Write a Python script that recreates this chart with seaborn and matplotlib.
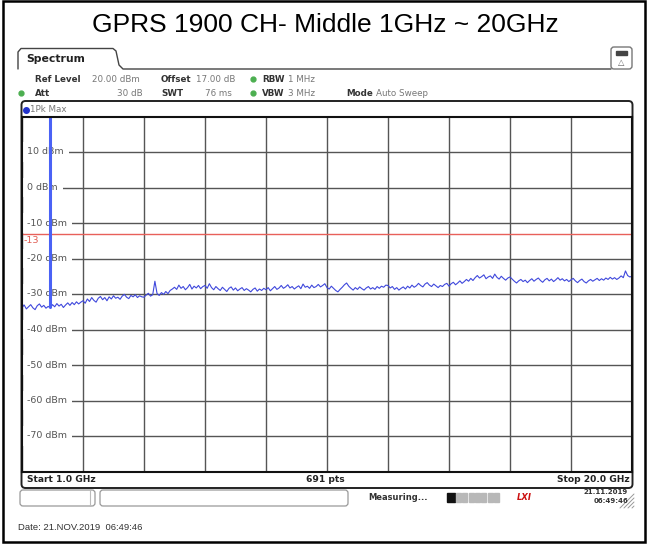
import matplotlib.pyplot as plt
import matplotlib.transforms as mtransforms
from matplotlib.patches import Rectangle, FancyBboxPatch
import seaborn as sns
import numpy as np
import pandas as pd

# datos
titulo = "GPRS 1900 CH- Middle 1GHz ~ 20GHz"
f_inicio = 1.0
f_fin = 20.0
nivel_ref = 20
niveles = [10, 0, -10, -20, -30, -40, -50, -60, -70]
limite = -13
portadora_f = 1.88
portadora_dbm = 30.0
portadora_piso = -33.6

# traza 1Pk Max, una division (1.9 GHz) por fila
traza = [
    -33.8, -33.1, -34.2, -33.6, -33.0, -33.9, -34.4, -33.3, -32.8, -33.7, -33.2, -34.0, -33.5, -33.9,
    -33.0, -33.6, -32.7, -33.4, -32.9, -33.8, -33.1, -32.5, -33.2, -32.4, -33.0, -32.2, -32.8, -32.3,
    -31.9, -32.6, -31.4, -32.1, -31.0, -31.8, -32.3, -31.2, -30.7, -31.6, -31.0, -31.9, -30.8, -31.4,
    -30.5, -31.2, -30.9, -31.5, -30.6, -30.1, -30.9, -31.3, -30.4, -30.8, -30.2, -31.0, -30.5, -30.8,
    -30.9, -30.3, -29.8, -30.6, -30.2, -26.4, -29.9, -30.4, -29.6, -30.1, -29.3, -29.9, -29.0, -28.6,
    -28.1, -28.7, -27.5, -28.4, -27.9, -28.8, -28.2, -27.3, -28.6, -27.8, -28.3, -27.6, -28.5, -27.9,
    -27.6, -28.4, -27.1, -28.2, -28.8, -27.9, -28.5, -29.0, -28.1, -28.7, -29.3, -28.4, -28.0, -28.9,
    -28.3, -29.1, -28.6, -28.2, -29.0, -28.5, -28.9, -29.4, -28.7, -28.3, -29.2, -28.6, -29.0, -28.4,
    -28.8, -28.2, -29.1, -28.5, -27.9, -28.7, -28.3, -27.6, -28.4, -28.0, -27.4, -28.3, -27.9, -28.6,
    -28.1, -27.7, -28.5, -27.2, -28.1, -27.8, -28.4, -27.5, -28.2, -27.9, -27.3, -28.0, -27.6, -27.1,
    -28.2, -28.6, -27.8, -28.4, -29.0, -29.4, -28.7, -28.1, -27.4, -26.9, -27.8, -28.4, -28.9, -28.2,
    -28.7, -28.0, -28.5, -28.9, -28.3, -27.9, -28.6, -28.2, -28.7, -27.9, -28.4, -27.8, -28.1, -27.5,
    -27.6, -28.3, -27.9, -28.7, -28.2, -28.9, -28.4, -28.0, -28.6, -27.8, -28.3, -27.5, -28.1, -27.7,
    -27.0, -27.6, -28.0, -27.2, -26.8, -27.5, -27.9, -27.2, -27.7, -28.2, -27.6, -27.9, -27.3, -27.0,
    -27.8, -27.1, -26.7, -27.4, -26.9, -26.3, -27.0, -26.5, -25.9, -26.4, -25.6, -26.2, -25.4, -24.8,
    -25.5, -25.1, -24.6, -25.7, -25.2, -24.9, -25.6, -24.4, -25.3, -25.8, -25.0, -25.6, -26.1, -25.5,
    -25.2, -25.8, -26.4, -26.9, -26.3, -25.9, -26.5, -26.1, -26.8, -26.2, -25.7, -26.4, -25.9, -25.5,
    -26.2, -26.7, -26.0, -25.6, -26.3, -25.8, -26.5, -26.0, -25.4, -26.1, -25.7, -26.3, -25.9, -26.5,
    -26.0, -25.6, -26.3, -26.8, -26.2, -25.8, -26.5, -26.9, -26.3, -25.9, -26.4, -26.0, -25.6, -26.2,
    -25.7, -26.1, -25.5, -25.9, -25.3, -25.8, -25.4, -25.9, -25.5, -24.9, -25.4, -23.5, -24.8, -25.2, -25.0,
]

ajustes_1 = [("Ref Level", 35, "b"), ("20.00 dBm", 92, "g"), ("Offset", 161, "b"), ("17.00 dB", 196, "g"),
             ("RBW", 262, "b"), ("1 MHz", 288, "g")]
ajustes_2 = [("Att", 35, "b"), ("SWT", 161, "b"), ("VBW", 262, "b"), ("3 MHz", 288, "g"),
             ("Mode", 346, "b"), ("Auto Sweep", 376, "g")]

sns.set_style("white")
plt.rcParams['font.family'] = ['DejaVu Sans']

W, H = 648, 545
fig = plt.figure(figsize=(W / 100, H / 100), dpi=100)
bg = fig.add_axes([0, 0, 1, 1])
bg.set_xlim(0, W)
bg.set_ylim(H, 0)
bg.axis('off')


def caja(x0, y0, x1, y1):
    return [x0 / W, 1 - y1 / H, (x1 - x0) / W, (y1 - y0) / H]


# marco exterior y titulo
bg.add_patch(Rectangle((3, 0.8), 642, 541.5, fill=False, ec='black', lw=1.8))
bg.text(325, 25, titulo, fontsize=19, family='Liberation Sans', ha='center', va='center', color='black')

# pestaña Spectrum
bg.plot([18, 18, 21, 113, 116, 119, 123, 611], [69, 52, 48.5, 48.5, 51, 65, 69, 69], color='#444', lw=1)
bg.text(26, 59, "Spectrum", fontsize=7.8, fontweight='bold', color='#222', va='center')
bg.add_patch(FancyBboxPatch((611, 47), 21, 22, boxstyle='round,pad=0,rounding_size=3', fill=False, ec='#777', lw=1))
bg.add_patch(Rectangle((616, 51), 11, 4, color='#444'))
bg.text(621.5, 62, "\u25b3", fontsize=6, color='#666', ha='center', va='center')

# ajustes
for txt, x, tipo in ajustes_1:
    bg.text(x, 79, txt, fontsize=6.3, va='center', color='#333' if tipo == 'b' else '#777',
            fontweight='bold' if tipo == 'b' else 'normal')
for txt, x, tipo in ajustes_2:
    bg.text(x, 93, txt, fontsize=6.3, va='center', color='#333' if tipo == 'b' else '#777',
            fontweight='bold' if tipo == 'b' else 'normal')
bg.text(143, 93, "30 dB", fontsize=6.3, va='center', ha='right', color='#777')
bg.text(232, 93, "76 ms", fontsize=6.3, va='center', ha='right', color='#777')
bg.plot([253, 253, 21], [79, 93, 93], 'o', color='#4caf50', ms=3.5)

# caja de la traza
bg.add_patch(FancyBboxPatch((21.5, 101), 611, 387, boxstyle='round,pad=0,rounding_size=4',
                            fill=False, ec='#222', lw=1.4))
bg.plot([26], [110], 'o', color='#2233cc', ms=4)
bg.text(30, 110, "1Pk Max", fontsize=6.3, va='center', color='#777')
bg.text(27, 479.5, "Start 1.0 GHz", fontsize=6.6, fontweight='bold', va='center', color='#222')
bg.text(325, 479.5, "691 pts", fontsize=6.6, fontweight='bold', va='center', ha='center', color='#222')
bg.text(630, 479.5, "Stop 20.0 GHz", fontsize=6.6, fontweight='bold', va='center', ha='right', color='#222')

# barra de estado
bg.add_patch(FancyBboxPatch((20, 490), 75, 16, boxstyle='round,pad=0,rounding_size=3', fill=False, ec='#999', lw=0.9))
bg.plot([90, 90], [490, 506], color='#bbb', lw=0.8)
bg.add_patch(FancyBboxPatch((100, 490), 248, 16, boxstyle='round,pad=0,rounding_size=3', fill=False, ec='#999', lw=0.9))
bg.text(368, 497, "Measuring...", fontsize=6, fontweight='bold', va='center', color='#333')
bg.add_patch(Rectangle((447, 493), 8, 9, color='#111'))
for i in range(7):
    bg.add_patch(Rectangle((456 + i * 6.3, 493), 5, 9, color='#b8b8b8'))
bg.text(524, 497, "LXI", fontsize=6, fontweight='bold', style='italic', ha='center', va='center', color='#cc1111')
bg.text(628, 492.5, "21.11.2019", fontsize=5, fontweight='bold', ha='right', va='center', color='#333')
bg.text(628, 501, "06:49:46", fontsize=5, fontweight='bold', ha='right', va='center', color='#333')
for k in range(4):
    bg.plot([620 + k * 4, 634], [508, 494 + k * 4], color='#999', lw=0.7)
bg.text(18, 527, "Date: 21.NOV.2019  06:49:46", fontsize=6.8, family='Liberation Sans', va='center', color='#333')

# grafico del espectro
ax = fig.add_axes(caja(22, 116.5, 632, 471.5))
ax.set_zorder(2)
frecs = np.linspace(f_inicio, f_fin, len(traza))
df = pd.DataFrame({'f': frecs, 'dbm': traza})
sns.lineplot(data=df, x='f', y='dbm', ax=ax, color='#3f48dc', linewidth=0.8, zorder=5)
ax.plot([portadora_f, portadora_f], [portadora_piso, portadora_dbm], color='#4a62f5', lw=2.2, zorder=5)
ax.axhline(limite, color='#e8605a', lw=1.0, zorder=4)

ax.set_xlim(f_inicio, f_fin)
ax.set_ylim(nivel_ref - 100, nivel_ref)
ax.set_xticks(np.linspace(f_inicio, f_fin, 11))
ax.set_yticks(niveles)
ax.set_xticklabels([])
ax.set_yticklabels([])
ax.tick_params(length=0)
ax.set_axisbelow(True)
ax.grid(True, color='#555', lw=1.0)
ax.set_xlabel('')
ax.set_ylabel('')
for s in ax.spines.values():
    s.set_color('#111')
    s.set_linewidth(1.5)
    s.set_zorder(6)

trans = mtransforms.blended_transform_factory(ax.transAxes, ax.transData)
for v in niveles:
    ax.text(0.0085, v, f"{v} dBm", transform=trans, fontsize=6.8, color='#555', va='center', ha='left',
            bbox=dict(fc='white', ec='none', pad=3.6), zorder=2)
ax.text(0.002, limite - 0.7, str(limite), transform=trans, fontsize=6.8, color='#e05a50', va='top', ha='left', zorder=3)

fig.savefig("out.png", dpi=100)
